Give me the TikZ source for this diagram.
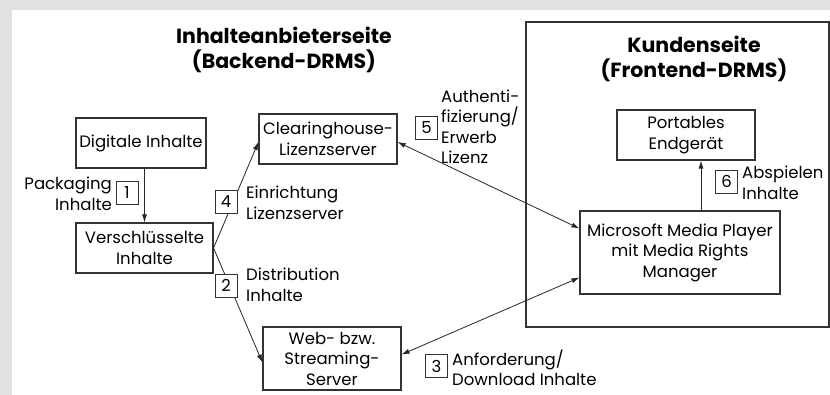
\documentclass[tikz,border=0pt]{standalone}
\usepackage{fontspec}
\setmainfont{Poppins}
\usetikzlibrary{arrows.meta}
\definecolor{bggray}{HTML}{E1E2E4}
\definecolor{linegray}{HTML}{333333}
\tikzset{
  box/.style={draw=linegray, line width=1.1pt, fill=white, align=center, inner sep=2pt,
    font=\fontsize{16.5}{20.5}\selectfont},
  numbox/.style={draw=linegray, line width=0.9pt, fill=white, inner sep=0pt,
    minimum width=22pt, minimum height=23pt, font=\fontsize{16.5}{20}\selectfont},
  lbl/.style={inner sep=0pt, font=\fontsize{16.5}{20.5}\selectfont},
  ttl/.style={align=center, inner sep=0pt, font=\fontsize{20.5}{25}\selectfont\bfseries},
  arr/.style={-{Latex[length=8pt,width=5pt]}, line width=0.8pt, draw=black!85},
  darr/.style={{Latex[length=8pt,width=5pt]}-{Latex[length=8pt,width=5pt]}, line width=0.8pt, draw=black!85}
}
\begin{document}
\begin{tikzpicture}[x=1pt,y=-1pt]
\useasboundingbox (0,0) rectangle (830,395);
\fill[bggray] (0,0) rectangle (830,395);
\fill[white] (12,10) rectangle (830,395);
\draw[linegray, line width=1.1pt] (526,22) rectangle (829,327);
\node[ttl] (anbieter) at (284,50) {Inhalteanbieterseite\\(Backend-DRMS)};
\node[ttl] (kunde) at (694,59) {Kundenseite\\(Frontend-DRMS)};
\node[box, minimum width=130pt, minimum height=50pt] (dig) at (141,143) {Digitale Inhalte};
\node[box, minimum width=137pt, minimum height=50pt] (vers) at (144.5,248) {Verschlüsselte\\Inhalte};
\node[box, minimum width=138pt, minimum height=50pt] (clear) at (328,139) {Clearinghouse-\\Lizenzserver};
\node[box, minimum width=138pt, minimum height=63pt] (web) at (332,358.5) {Web- bzw.\\Streaming-\\Server};
\node[box, minimum width=138pt, minimum height=50pt] (port) at (686,135) {Portables\\Endgerät};
\node[box, minimum width=200pt, minimum height=83pt] (mmp) at (680,252.5) {Microsoft Media Player\\mit Media Rights\\Manager};
\draw[arr] (dig.south -| vers.north) -- (vers.north);
\draw[arr] (vers.east) -- ([yshift=-4pt]web.west);
\draw[arr] (vers.east) -- ([yshift=-3pt]clear.west);
\draw[darr] ([yshift=-3pt]clear.east) -- ([yshift=24pt]mmp.west);
\draw[darr] ([yshift=4pt]web.east) -- ([yshift=-25pt]mmp.west);
\draw[arr] ([xshift=21pt]mmp.north) -- ([xshift=21pt]mmp.north |- port.south);
\node[numbox] (n1) at (127,193) {1};
\node[lbl, anchor=east, align=right] (l1) at (112,194) {Packaging\\Inhalte};
\node[numbox] (n4) at (226,202) {4};
\node[lbl, anchor=west, align=left] (l4) at (246,203) {Einrichtung\\Lizenzserver};
\node[numbox] (n2) at (226,285.5) {2};
\node[lbl, anchor=west, align=left] (l2) at (246,285) {Distribution\\Inhalte};
\node[numbox] (n5) at (426.5,128) {5};
\node[lbl, anchor=west, align=left] (l5) at (441,127) {Authenti-\\fizierung/\\Erwerb\\Lizenz};
\node[numbox] (n3) at (436.5,366) {3};
\node[lbl, anchor=west, align=left] (l3) at (452,368) {Anforderung/\\Download Inhalte};
\node[numbox] (n6) at (726.5,181.5) {6};
\node[lbl, anchor=west, align=left] (l6) at (742,183) {Abspielen\\Inhalte};
\end{tikzpicture}
\end{document}
